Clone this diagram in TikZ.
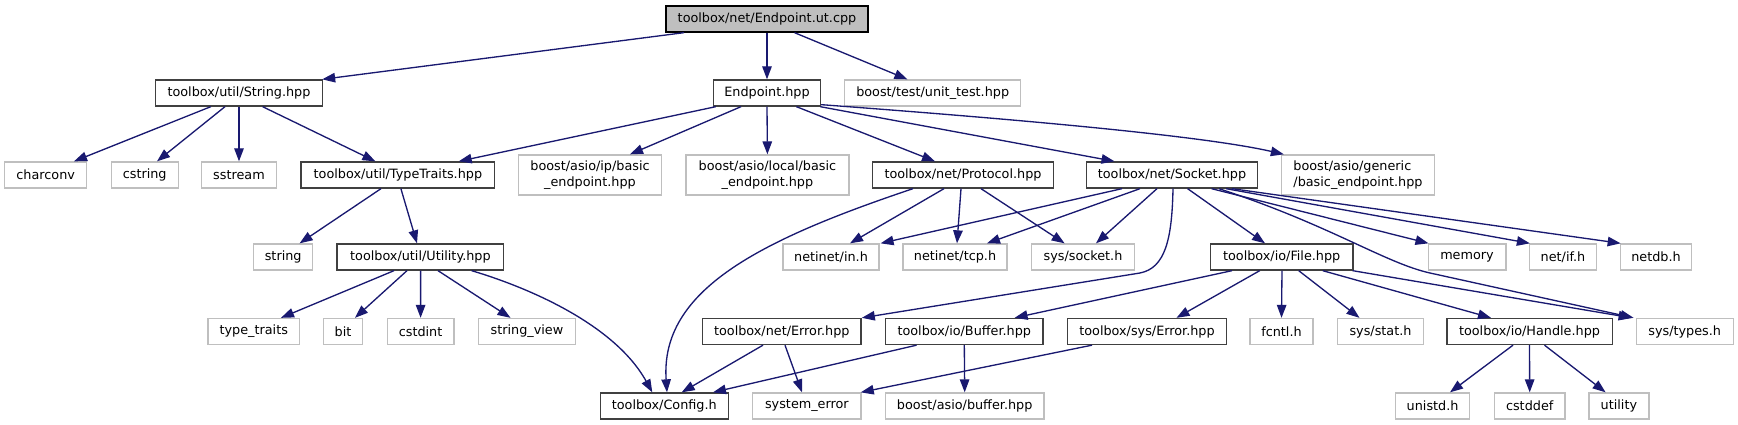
\documentclass[tikz,border=0pt]{standalone}
\usepackage{fontspec}
\setmainfont{DejaVu Sans}
\usetikzlibrary{arrows.meta}
\definecolor{edgec}{HTML}{191970}
\definecolor{gdark}{HTML}{404040}
\definecolor{glight}{HTML}{BFBFBF}
\begin{document}
\begin{tikzpicture}[x=1pt,y=-1pt,
  every node/.style={font=\fontsize{12.8}{16}\selectfont, inner sep=0pt, minimum height=26pt},
  inc/.style={draw=gdark, line width=1.33pt, fill=white},
  ext/.style={draw=glight, line width=1.33pt, fill=white},
  rootbox/.style={draw=black, fill=glight, line width=1.33pt},
  dep/.style={draw=edgec, line width=1.33pt, -{Triangle[length=13pt,width=9.5pt]}}]
\useasboundingbox (0,0) rectangle (1738,425);
% row 0
\node[rootbox, minimum width=202pt] (root) at (767,19) {toolbox/net/Endpoint.ut.cpp};
% row 1
\node[inc, minimum width=167pt] (strg) at (239,93) {toolbox/util/String.hpp};
\node[inc, minimum width=107pt] (ephpp) at (767,93) {Endpoint.hpp};
\node[ext, minimum width=176pt] (utest) at (932.7,93) {boost/test/unit\_test.hpp};
% row 2
\node[ext, minimum width=82pt] (charconv) at (45.7,175) {charconv};
\node[ext, minimum width=67pt] (cstring) at (144.7,175) {cstring};
\node[ext, minimum width=75pt] (sstream) at (239,175) {sstream};
\node[inc, minimum width=193.5pt] (ttraits) at (397.9,175) {toolbox/util/TypeTraits.hpp};
\node[ext, minimum width=143pt, minimum height=40pt, align=center] (ipbasic) at (590,175) {boost/asio/ip/basic\\\_endpoint.hpp};
\node[ext, minimum width=163pt, minimum height=40pt, align=center] (localbasic) at (767.4,175) {boost/asio/local/basic\\\_endpoint.hpp};
\node[inc, minimum width=181.6pt] (protocol) at (963,175) {toolbox/net/Protocol.hpp};
\node[inc, minimum width=171.5pt] (socket) at (1172,175) {toolbox/net/Socket.hpp};
\node[ext, minimum width=153pt, minimum height=40pt, align=left] (generic) at (1358,175) {boost/asio/generic\\/basic\_endpoint.hpp};
% row 3
\node[ext, minimum width=58.8pt] (string) at (283.2,257) {string};
\node[inc, minimum width=166.8pt] (utility) at (420.4,257) {toolbox/util/Utility.hpp};
\node[ext, minimum width=95.8pt] (netin) at (831,257) {netinet/in.h};
\node[ext, minimum width=104.3pt] (tcp) at (955,257) {netinet/tcp.h};
\node[ext, minimum width=103.6pt] (syssocket) at (1083,257) {sys/socket.h};
\node[inc, minimum width=142.4pt] (file) at (1281.7,257) {toolbox/io/File.hpp};
\node[ext, minimum width=77.7pt] (memory) at (1467,257) {memory};
\node[ext, minimum width=66.9pt] (netif) at (1563,257) {net/if.h};
\node[ext, minimum width=71.4pt] (netdb) at (1656,257) {netdb.h};
% row 4
\node[ext, minimum width=91.7pt] (typetraits) at (253.8,331.5) {type\_traits};
\node[ext, minimum width=38.8pt] (bit) at (343,331.5) {bit};
\node[ext, minimum width=66.6pt] (cstdint) at (420.6,331.5) {cstdint};
\node[ext, minimum width=97.6pt] (stringview) at (527,331.5) {string\_view};
\node[inc, minimum width=158.7pt] (neterror) at (781.8,331.5) {toolbox/net/Error.hpp};
\node[inc, minimum width=157.6pt] (iobuffer) at (964.3,331.5) {toolbox/io/Buffer.hpp};
\node[inc, minimum width=159.3pt] (syserror) at (1147,331.5) {toolbox/sys/Error.hpp};
\node[ext, minimum width=62.9pt] (fcntl) at (1281.5,331.5) {fcntl.h};
\node[ext, minimum width=85.4pt] (stat) at (1380.5,331.5) {sys/stat.h};
\node[inc, minimum width=165.3pt] (handle) at (1529.5,331.5) {toolbox/io/Handle.hpp};
\node[ext, minimum width=96.9pt] (systypes) at (1684.7,331.5) {sys/types.h};
% row 5
\node[inc, minimum width=128pt] (config) at (664.3,406) {toolbox/Config.h};
\node[ext, minimum width=108.4pt] (syserr) at (806.9,406) {system\_error};
\node[ext, minimum width=158.4pt] (asiobuffer) at (964.7,406) {boost/asio/buffer.hpp};
\node[ext, minimum width=74.3pt] (unistd) at (1432.6,406) {unistd.h};
\node[ext, minimum width=70.3pt] (cstddef) at (1529.7,406) {cstddef};
\node[ext, minimum width=60pt] (utilityh) at (1618.9,406) {utility};
% edges from root
\draw[dep] ([xshift=-83]root.south) -- ([xshift=-1]strg.north east);
\draw[dep] (root.south) -- (ephpp.north);
\draw[dep] ([xshift=27.5]root.south) -- ([xshift=-25.3]utest.north);
% String.hpp
\draw[dep] ([xshift=-28.2]strg.south) -- ([xshift=28.3]charconv.north);
\draw[dep] ([xshift=-14]strg.south) -- ([xshift=12.3]cstring.north);
\draw[dep] (strg.south) -- (sstream.north);
\draw[dep] ([xshift=23.6]strg.south) -- ([xshift=-22.5]ttraits.north);
% Endpoint.hpp
\draw[dep] ([xshift=3]ephpp.south west) -- ([xshift=60.8]ttraits.north);
\draw[dep] ([xshift=-26]ephpp.south) -- ([xshift=40]ipbasic.north);
\draw[dep] (ephpp.south) -- (localbasic.north);
\draw[dep] ([xshift=29.4]ephpp.south) -- ([xshift=-28]protocol.north);
\draw[dep] ([xshift=-1]ephpp.south east) -- ([xshift=-57.5]socket.north);
\draw[dep] ([yshift=2]ephpp.south east) .. controls (1000,118) and (1200,135) .. ([xshift=3]generic.north west);
% TypeTraits
\draw[dep] ([xshift=-16.9]ttraits.south) -- ([xshift=16.4]string.north);
\draw[dep] ([xshift=3]ttraits.south) -- ([xshift=-3.4]utility.north);
% Utility
\draw[dep] ([xshift=-26.4]utility.south) -- ([xshift=27.2]typetraits.north);
\draw[dep] ([xshift=-13.4]utility.south) -- ([xshift=12]bit.north);
\draw[dep] ([xshift=0.2]utility.south) -- (cstdint.north);
\draw[dep] ([xshift=17.6]utility.south) -- ([xshift=-16.5]stringview.north);
\draw[dep] ([xshift=51.2]utility.south) .. controls (530,288) and (615,325) .. ([xshift=-12]config.north);
% Protocol
\draw[dep] ([xshift=-50]protocol.south) .. controls (760,240) and (660,290) .. ([xshift=2.7]config.north);
\draw[dep] ([xshift=-19]protocol.south) -- ([xshift=19]netin.north);
\draw[dep] ([xshift=-2]protocol.south) -- ([xshift=2]tcp.north);
\draw[dep] ([xshift=18]protocol.south) -- ([xshift=-18.4]syssocket.north);
% Socket
\draw[dep] ([xshift=-50]socket.south) -- ([xshift=1]netin.north east);
\draw[dep] ([xshift=-32]socket.south) -- ([xshift=32]tcp.north);
\draw[dep] ([xshift=-15]socket.south) -- ([xshift=13]syssocket.north);
\draw[dep] ([xshift=1]socket.south) .. controls (1172,240) and (1165,268) .. (1140,273) -- (neterror.north east);
\draw[dep] ([xshift=15.6]socket.south) -- ([xshift=-16.7]file.north);
\draw[dep] ([xshift=39.6]socket.south) -- ([xshift=1]memory.north west);
\draw[dep] ([xshift=54]socket.south) -- ([xshift=1]netif.north west);
\draw[dep] ([xshift=60]socket.south) -- ([xshift=1]netdb.north west);
\draw[dep] ([xshift=47]socket.south) .. controls (1330,225) and (1385,263) .. (1430,273) -- ([xshift=-2]systypes.north west);
% File
\draw[dep] ([xshift=-49.7]file.south) -- ([xshift=50.3]iobuffer.north);
\draw[dep] ([xshift=-22]file.south) -- ([xshift=29.5]syserror.north);
\draw[dep] ([xshift=0.3]file.south) -- (fcntl.north);
\draw[dep] ([xshift=17]file.south) -- ([xshift=-21]stat.north);
\draw[dep] ([xshift=41]file.south) -- ([xshift=-38.5]handle.north);
\draw[dep] ([xshift=-1]file.south east) -- ([xshift=-4]systypes.north west);
% Handle
\draw[dep] ([xshift=-16.5]handle.south) -- ([xshift=17.4]unistd.north);
\draw[dep] (handle.south) -- (cstddef.north);
\draw[dep] ([xshift=15]handle.south) -- ([xshift=-13.3]utilityh.north);
% net/Error
\draw[dep] ([xshift=-18.8]neterror.south) -- ([xshift=17.4]config.north);
\draw[dep] ([xshift=3.2]neterror.south) -- ([xshift=-4.9]syserr.north);
% io/Buffer
\draw[dep] ([xshift=-47.7]iobuffer.south) -- ([xshift=48.7]config.north);
\draw[dep] (iobuffer.south) -- (asiobuffer.north);
% sys/Error
\draw[dep] ([xshift=-55]syserror.south) -- ([xshift=-1]syserr.north east);
\end{tikzpicture}
\end{document}
